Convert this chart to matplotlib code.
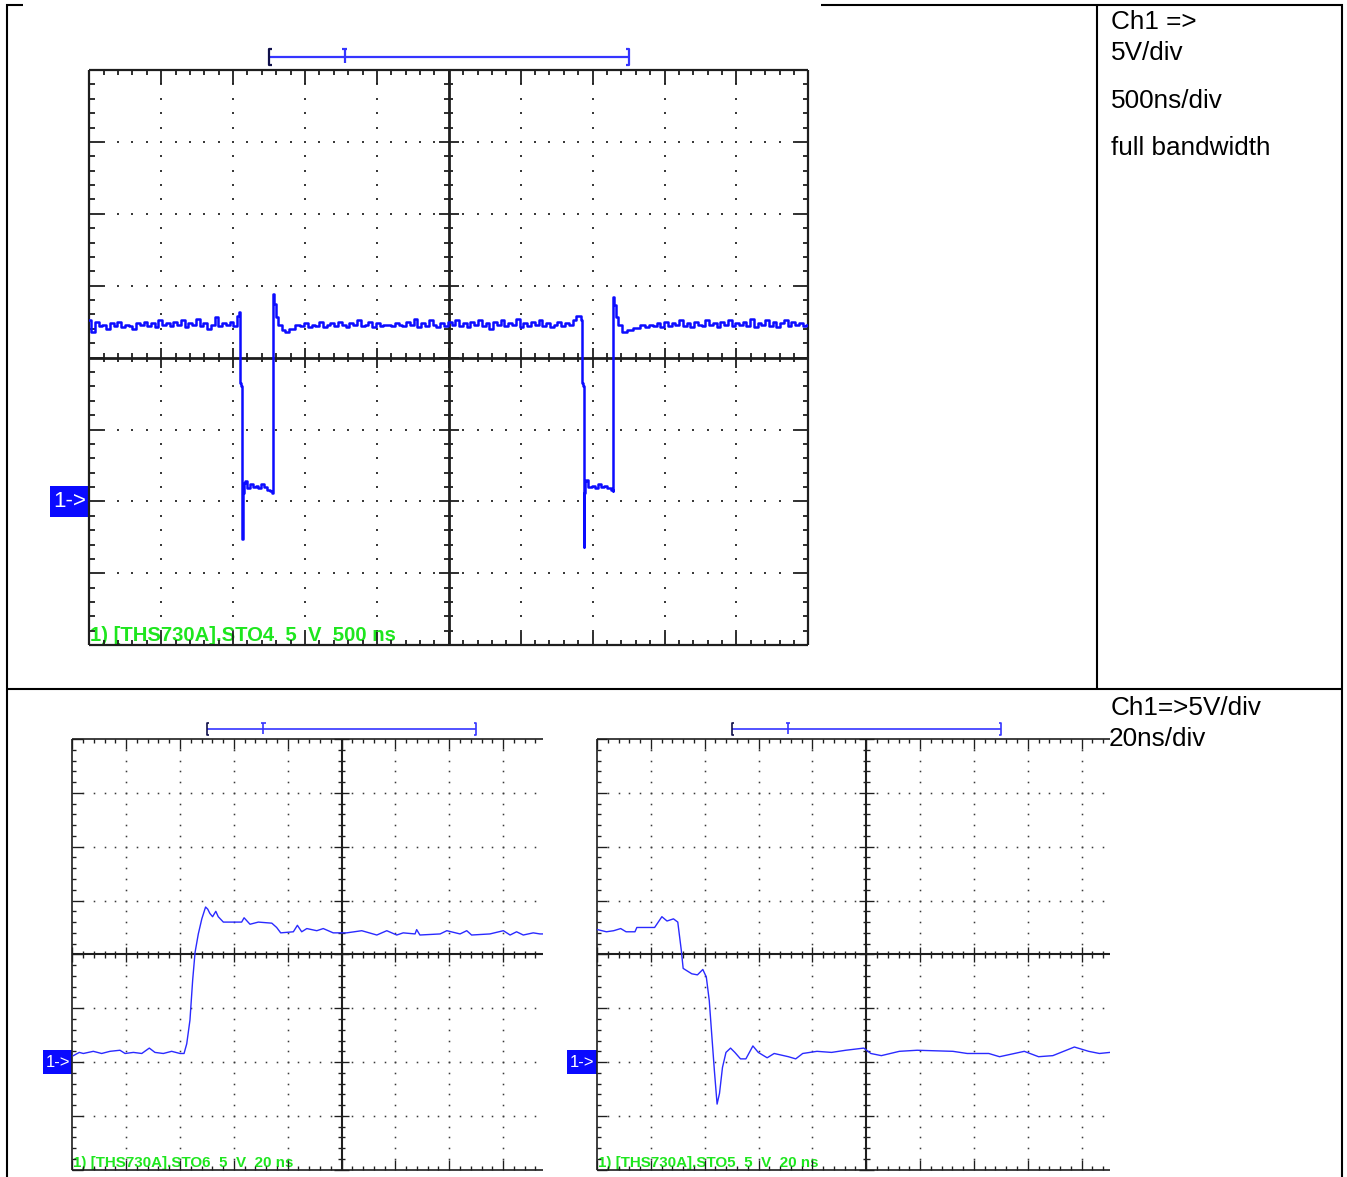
import numpy as np
import matplotlib
matplotlib.use('Agg')
import matplotlib.pyplot as plt
from matplotlib.patches import Rectangle
from matplotlib.collections import LineCollection

W, H = 1347, 1177
plt.rcParams['font.family'] = ['Liberation Sans', 'DejaVu Sans']

# ---- Ch1, 5 V/div, 500 ns/div : two switching pulses (time in ns, level in V)
top_tdiv, top_vdiv = 500, 5
top_high_a = [12.6, 11.8, 12.5, 12.2, 12.3, 12.0, 12.4, 12.2, 12.5, 12.1,
              12.3, 12.2, 12.0, 12.4, 12.3, 12.5, 12.2, 12.4, 12.1, 12.6,
              12.3, 12.4, 12.2, 12.5, 12.3, 12.6, 12.1, 12.4, 12.3, 12.7,
              12.2, 12.4, 12.0, 12.3, 12.8, 12.2, 12.4, 12.3, 12.5, 12.2, 12.9]
top_fall_1_t = [1042, 1048, 1049, 1062, 1064, 1070, 1078]
top_fall_1_v = [13.2, 12.9, 8.2, 8.0, -2.6, 0.6, 1.3]
top_low_1 = [1.4, 0.9, 1.2, 1.0, 1.1, 0.9, 1.2, 1.0, 0.8, 0.7]
top_rise_1_t = [1276, 1279, 1287, 1303, 1326, 1349, 1373, 1408, 1453]
top_rise_1_v = [0.6, 14.4, 13.7, 12.8, 12.3, 11.9, 11.8, 12.0, 12.25]
top_high_b = [12.2, 12.4, 12.1, 12.3, 12.2, 12.5, 12.1, 12.3, 12.4, 12.2,
              12.5, 12.3, 12.1, 12.4, 12.3, 12.6, 12.2, 12.3, 12.5, 12.1,
              12.4, 12.2, 12.3, 12.3, 12.2, 12.4, 12.3, 12.2, 12.5, 12.3,
              12.7, 12.1, 12.4, 12.2, 12.6, 12.3, 12.1, 12.4, 12.2, 12.5,
              12.3, 12.6, 12.2, 12.4, 12.1, 12.5, 12.3, 12.6, 12.2, 12.4,
              12.0, 12.5, 12.3, 12.6, 12.2, 12.4, 12.3, 12.7, 12.1, 12.4,
              12.2, 12.5, 12.3, 12.6, 12.2, 12.4, 12.1, 12.3, 12.5, 12.2,
              12.4, 12.3, 12.6, 12.9]
top_fall_2_t = [3418, 3424, 3425, 3436, 3440, 3446, 3454]
top_fall_2_v = [12.9, 12.6, 8.2, 8.0, -3.2, 0.6, 1.4]
top_low_2 = [1.5, 1.0, 1.1, 0.9, 1.2, 1.0, 1.1, 0.9, 0.8]
top_rise_2_t = [3642, 3645, 3656, 3667, 3690, 3725, 3760, 3807, 3853]
top_rise_2_v = [0.7, 14.2, 13.65, 12.8, 12.26, 11.8, 11.9, 12.05, 12.26]
top_high_c = [12.1, 12.3, 12.2, 12.4, 12.1, 12.5, 12.2, 12.4, 12.3, 12.6,
              12.2, 12.4, 12.1, 12.5, 12.3, 12.2, 12.6, 12.3, 12.4, 12.1,
              12.5, 12.3, 12.6, 12.2, 12.4, 12.3, 12.5, 12.2, 12.7, 12.1,
              12.4, 12.3, 12.6, 12.2, 12.5, 12.1, 12.4, 12.6, 12.2, 12.5,
              12.3, 12.4, 12.2, 12.3]

# ---- Ch1, 5 V/div, 20 ns/div : rising edge (STO6)
rise_t = [0.4, 2.6, 4.1, 7.8, 10.9, 14.0, 17.7, 19.6, 22.7, 25.8, 28.6, 30.7,
          33.8, 36.9, 40.0, 41.5, 42.5, 43.7, 44.7, 45.6, 46.8, 48.1, 49.5,
          50.3, 51.1, 52.1, 53.3, 54.2, 56.1, 62.9, 63.8, 66.0, 69.1, 74.1,
          75.9, 77.4, 82.1, 83.6, 85.2, 87.1, 90.8, 93.2, 96.9, 101.9, 107.5,
          113.1, 116.8, 120.5, 122.9, 127.3, 127.9, 129.1, 136.6, 139.1,
          144.0, 146.5, 148.3, 155.1, 160.1, 162.6, 165.0, 167.5, 171.2,
          173.7, 174.9]
rise_v = [0.6, 0.9, 0.8, 1.0, 0.8, 1.0, 1.1, 0.8, 0.9, 0.8, 1.3, 0.9,
          0.8, 1.0, 0.8, 0.8, 1.7, 3.9, 7.6, 10.2, 11.9, 13.3, 14.4,
          14.2, 13.8, 13.5, 14.0, 13.5, 13.0, 13.0, 13.4, 12.8, 13.0, 12.9,
          12.5, 12.0, 12.1, 12.7, 12.1, 12.4, 12.2, 12.4, 12.0, 12.0, 12.2,
          11.8, 12.2, 11.8, 12.0, 11.9, 12.3, 11.8, 11.9, 12.2,
          11.9, 12.2, 11.8, 11.9, 12.2, 11.8, 12.1, 11.8, 12.0,
          11.9, 11.9]

# ---- Ch1, 5 V/div, 20 ns/div : falling edge (STO5)
fall_t = [0.2, 3.5, 6.2, 8.8, 10.8, 14.1, 14.8, 21.4, 24.1, 26.0, 28.4, 30.0,
          31.3, 32.0, 35.2, 37.3, 39.3, 40.6, 41.7, 42.6, 43.6, 44.6, 45.5,
          46.6, 47.9, 49.6, 51.2, 53.3, 55.3, 57.9, 59.9, 63.2, 65.8, 71.1,
          73.8, 76.4, 81.7, 87.1, 92.4, 99.1, 101.7, 105.6, 112.3, 118.9,
          132.2, 137.5, 145.5, 149.5, 158.7, 164.0, 169.3, 177.3, 182.6,
          186.6, 190.5]
fall_v = [12.3, 12.1, 12.2, 12.4, 12.1, 12.1, 12.5, 12.5, 13.5, 13.1, 13.3, 13.0,
          10.4, 8.7, 8.2, 8.1, 8.6, 7.9, 5.7, 2.6, -0.8, -3.9, -2.9,
          -0.5, 0.9, 1.3, 0.9, 0.3, 0.3, 1.5, 0.9, 0.4, 0.8, 0.5,
          0.3, 0.8, 1.0, 0.9, 1.1, 1.3, 0.8, 0.6, 1.0, 1.1,
          1.0, 0.8, 0.8, 0.5, 1.0, 0.5, 0.6, 1.4, 1.0,
          0.8, 0.9]

fast_tdiv, fast_vdiv = 20, 5

BLUE = '#0c0cff'
GREEN = '#1ee61e'
INK = '#1e1e1e'

fig = plt.figure(figsize=(W / 100, H / 100), dpi=100)
fig.patch.set_facecolor('white')

# table frame and side notes, drawn in pixel coordinates
bg = fig.add_axes([0, 0, 1, 1])
bg.set_xlim(0, W)
bg.set_ylim(H, 0)
bg.axis('off')
lkw = dict(color='black', lw=1.5, solid_capstyle='butt')
bg.plot([6, 23], [4.5, 4.5], **lkw)
bg.plot([821, 1343], [4.5, 4.5], **lkw)
bg.plot([7, 7], [4, H], **lkw)
bg.plot([1342, 1342], [4, H], **lkw)
bg.plot([1097, 1097], [4, 689], **lkw)
bg.plot([6, 1343], [689, 689], **lkw)

notes = [(1111, 29, 'Ch1 =>'), (1111, 60, '5V/div'), (1111, 108, '500ns/div'),
         (1111, 155, 'full bandwidth'), (1111, 715, 'Ch1=>5V/div'),
         (1109, 746, '20ns/div')]
for x, y, s in notes:
    bg.text(x, y, s, fontsize=18.8, color='black', ha='left', va='baseline')


def scope(left, top, div, nvis, tdiv, vdiv, label):
    s = div / 71.9
    ax = fig.add_axes([left / W, 1 - (top + 8 * div) / H, nvis * div / W, 8 * div / H])
    ax.set_xlim(0, nvis * tdiv)
    ax.set_ylim(-2 * vdiv, 6 * vdiv)
    ax.axis('off')

    x0, x1 = 0.0, nvis * tdiv
    y0, y1 = -2 * vdiv, 6 * vdiv
    xc, yc = 5 * tdiv, 2 * vdiv
    kw = dict(color=INK, clip_on=False, zorder=3, solid_capstyle='butt')
    ax.plot([x0, x0], [y0, y1], lw=1.6 * s, **kw)
    ax.plot([x0, x1], [y1, y1], lw=1.6 * s, **kw)
    ax.plot([x0, x1], [y0, y0], lw=1.6 * s, **kw)
    if nvis >= 10:
        ax.plot([x1, x1], [y0, y1], lw=1.6 * s, **kw)
    ax.plot([x0, x1], [yc, yc], lw=2.0 * s, **kw)
    ax.plot([xc, xc], [y0, y1], lw=2.0 * s, **kw)

    nx = int(np.floor(nvis * 5 + 1e-6))
    segs = []
    for k in range(nx + 1):
        x = k * 0.2 * tdiv
        major = k % 5 == 0
        L = (0.19 if major else 0.075) * vdiv
        c = (0.14 if major else 0.065) * vdiv
        segs += [[(x, y1), (x, y1 - L)], [(x, y0), (x, y0 + L)], [(x, yc - c), (x, yc + c)]]
    for k in range(41):
        y = y0 + k * 0.2 * vdiv
        major = k % 5 == 0
        L = (0.19 if major else 0.075) * tdiv
        c = (0.14 if major else 0.065) * tdiv
        segs += [[(x0, y), (x0 + L, y)], [(xc - c, y), (xc + c, y)]]
        if nvis >= 10:
            segs.append([(x1, y), (x1 - L, y)])
    ax.add_collection(LineCollection(segs, colors=INK, linewidths=1.3 * s,
                                     clip_on=False, zorder=3))

    # dotted graticule
    dx, dy = [], []
    for i in range(1, int(nvis) + 1):
        if i == 5 or i >= nvis:
            continue
        for k in range(1, 40):
            dx.append(i * tdiv)
            dy.append(y0 + k * 0.2 * vdiv)
    for j in range(1, 8):
        if j == 4:
            continue
        for k in range(1, nx + 1):
            dx.append(k * 0.2 * tdiv)
            dy.append(y0 + j * vdiv)
    ax.plot(dx, dy, ls='none', marker='s', ms=1.5 * s, mew=0, color='#3a3a3a',
            clip_on=False, zorder=2)

    # trigger / window bar above the screen
    yb = y1 + 0.18 * vdiv
    h = 0.11 * vdiv
    bl, bt, br = 2.5 * tdiv, 3.55 * tdiv, 7.5 * tdiv
    serif = 0.04 * tdiv
    bkw = dict(clip_on=False, lw=1.6 * s, solid_capstyle='butt')
    ax.plot([bl, br], [yb, yb], color='#3535ff', **bkw)
    ax.plot([bl + serif, bl, bl, bl + serif], [yb + h, yb + h, yb - h, yb - h],
            color='#10104a', **bkw)
    ax.plot([br - serif, br, br, br - serif], [yb + h, yb + h, yb - h, yb - h],
            color='#3535ff', **bkw)
    ax.plot([bt, bt], [yb + h, yb - 0.08 * vdiv], color='#3535ff', **bkw)
    ax.plot([bt - serif, bt + serif], [yb + h, yb + h], color='#3535ff', **bkw)

    # ground marker for channel 1
    ax.add_patch(Rectangle((-0.55 * tdiv, -0.22 * vdiv), 0.55 * tdiv, 0.44 * vdiv,
                           facecolor='#0a0aff', lw=0, clip_on=False))
    ax.text(-0.27 * tdiv, 0, '1->', color='white', fontsize=16 * s,
            ha='center', va='center', clip_on=False)

    ax.text(0.01 * tdiv, y0 + 0.06 * vdiv, label, color=GREEN, fontsize=14.6 * s,
            fontweight='bold', ha='left', va='baseline', zorder=2)
    return ax


ax1 = scope(89.3, 70, 71.9, 10, top_tdiv, top_vdiv, '1) [THS730A].STO4  5  V  500 ns')
top_t = np.concatenate([np.linspace(0, 1040, len(top_high_a)), top_fall_1_t,
                        np.linspace(1085, 1268, len(top_low_1)), top_rise_1_t,
                        np.linspace(1480, 3400, len(top_high_b)), top_fall_2_t,
                        np.linspace(3460, 3636, len(top_low_2)), top_rise_2_t,
                        np.linspace(3880, 5000, len(top_high_c))])
top_v = np.concatenate([top_high_a, top_fall_1_v, top_low_1, top_rise_1_v,
                        top_high_b, top_fall_2_v, top_low_2, top_rise_2_v, top_high_c])
ax1.plot(top_t, top_v, color=BLUE, lw=1.8, drawstyle='steps-mid', zorder=4)

ax2 = scope(72.3, 739, 53.85, 8.75, fast_tdiv, fast_vdiv, '1) [THS730A].STO6  5  V  20 ns')
ax2.plot(rise_t, rise_v, color='#2a2aff', lw=1.0, zorder=4)

ax3 = scope(597, 739, 53.85, 9.53, fast_tdiv, fast_vdiv, '1) [THS730A].STO5  5  V  20 ns')
ax3.plot(fall_t, fall_v, color='#2a2aff', lw=1.0, zorder=4)

fig.savefig('out.png', dpi=100)
